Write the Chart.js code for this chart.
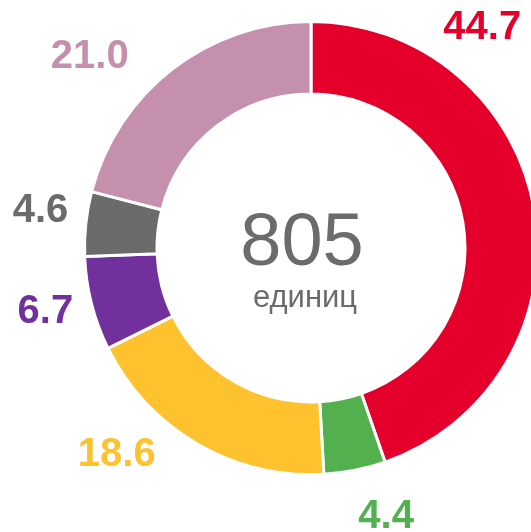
<!DOCTYPE html>
<html>
<head>
<meta charset="utf-8">
<script src="https://cdn.jsdelivr.net/npm/chart.js@4/dist/chart.umd.min.js"></script>
<style>
  html, body { margin: 0; padding: 0; background: #fff; overflow: hidden; }
  #wrap { width: 531px; height: 532px; overflow: hidden; }
</style>
</head>
<body>
<div id="wrap"><canvas id="share" width="560" height="532"></canvas></div>
<script>
  // shares, clockwise from the top
  var categories = ['A', 'B', 'C', 'D', 'E', 'F'];
  var shares = [44.7, 4.4, 18.6, 6.7, 4.6, 21.0];
  var colors = ['#e4002b', '#52b04f', '#fdc22e', '#72309c', '#6b6b6b', '#c58fae'];
  var totalUnits = '805';
  var unitLabel = 'единиц';

  // where each value label sits, relative to its slice: degrees of turn, px past the rim
  var labelTurn = [-43, -4.6, 13.4, 1.3, 2.3, -10.9];
  var labelGap = [55, 50, 55, 46, 47, 68];

  var valueLabels = {
    id: 'valueLabels',
    afterDatasetsDraw: function (chart) {
      var ctx = chart.ctx;
      var arcs = chart.getDatasetMeta(0).data;
      ctx.save();
      ctx.font = 'bold 40px "Liberation Sans", Arial, sans-serif';
      ctx.textAlign = 'center';
      ctx.textBaseline = 'alphabetic';
      arcs.forEach(function (arc, i) {
        var p = arc.getProps(['x', 'y', 'startAngle', 'endAngle', 'outerRadius'], true);
        var a = (p.startAngle + p.endAngle) / 2 + labelTurn[i] * Math.PI / 180;
        var r = p.outerRadius + labelGap[i];
        var txt = shares[i].toFixed(1);
        var m = ctx.measureText(txt);
        var h = m.actualBoundingBoxAscent;
        ctx.fillStyle = colors[i];
        ctx.fillText(txt, p.x + Math.cos(a) * r, p.y + Math.sin(a) * r + h / 2);
      });

      // total in the hole
      var c = arcs[0];
      ctx.fillStyle = '#6b6b6b';
      ctx.font = '74px "Liberation Sans", Arial, sans-serif';
      ctx.fillText(totalUnits, c.x - 9, c.y + 17);
      ctx.font = '31px "Liberation Sans", Arial, sans-serif';
      ctx.fillText(unitLabel, c.x - 6, c.y + 59);
      ctx.restore();
    }
  };

  new Chart(document.getElementById('share'), {
    type: 'doughnut',
    data: {
      labels: categories,
      datasets: [{
        data: shares,
        backgroundColor: colors,
        borderColor: '#ffffff',
        borderWidth: 3,
        hoverOffset: 0
      }]
    },
    options: {
      responsive: false,
      animation: false,
      cutout: '68%',
      layout: { padding: { left: 83, right: 21, top: 20, bottom: 56 } },
      plugins: {
        legend: { display: false },
        tooltip: { enabled: false }
      }
    },
    plugins: [valueLabels]
  });
</script>
</body>
</html>
